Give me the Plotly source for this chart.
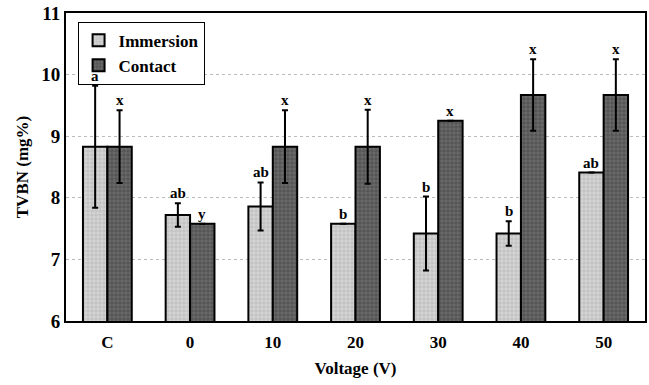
import plotly.graph_objects as go

categories = ["C", "0", "10", "20", "30", "40", "50"]
immersion = [8.83, 7.72, 7.86, 7.58, 7.42, 7.42, 8.41]
immersion_err = [0.99, 0.19, 0.39, 0.0, 0.60, 0.20, 0.0]
contact = [8.83, 7.58, 8.83, 8.83, 9.25, 9.67, 9.67]
contact_err = [0.59, 0.0, 0.59, 0.60, 0.0, 0.58, 0.58]
immersion_letters = ["a", "ab", "ab", "b", "b", "b", "ab"]
contact_letters = ["x", "y", "x", "x", "x", "x", "x"]
y_ticks = [6, 7, 8, 9, 10, 11]

FONT = "Liberation Serif"
fig = go.Figure()
fig.add_trace(go.Bar(
    name="Immersion", x=categories, y=immersion,
    error_y=dict(type="data", array=immersion_err, visible=True,
                 color="black", thickness=2, width=3),
    marker=dict(color="#d4d4d4", line=dict(color="black", width=2),
                pattern=dict(shape="+", fgcolor="#8a8a8a", size=4, solidity=0.25)),
))
fig.add_trace(go.Bar(
    name="Contact", x=categories, y=contact,
    error_y=dict(type="data", array=contact_err, visible=True,
                 color="black", thickness=2, width=3),
    marker=dict(color="#6a6a6a", line=dict(color="black", width=2),
                pattern=dict(shape="+", fgcolor="#1e1e1e", size=4, solidity=0.3)),
))

half = (1 - 0.41) / 4
ann = []
for i in range(len(categories)):
    ann.append(dict(x=i - half, y=immersion[i] + immersion_err[i], text=immersion_letters[i],
                    showarrow=False, yanchor="bottom", yshift=0,
                    font=dict(family=FONT, size=15, color="black", weight="bold")))
    ann.append(dict(x=i + half, y=contact[i] + contact_err[i], text=contact_letters[i],
                    showarrow=False, yanchor="bottom", yshift=0,
                    font=dict(family=FONT, size=15, color="black", weight="bold")))

fig.update_layout(
    width=649, height=385,
    margin=dict(l=66, r=4, t=13, b=64, autoexpand=False),
    barmode="group", bargap=0.41, bargroupgap=0,
    plot_bgcolor="white", paper_bgcolor="white",
    font=dict(family=FONT, color="black", weight="bold"),
    annotations=ann,
    legend=dict(x=0.02, y=0.972, xanchor="left", yanchor="top",
                bgcolor="white", bordercolor="black", borderwidth=1,
                font=dict(family=FONT, size=17, weight="bold"),
                tracegroupgap=0, itemwidth=30, itemclick=False),
    xaxis=dict(showline=True, linecolor="black", linewidth=2, mirror=True,
               ticks="", automargin=False, ticklabelstandoff=5,
               tickfont=dict(size=17, family=FONT, weight="bold"),
               title=dict(text="Voltage (V)", font=dict(size=17, family=FONT, weight="bold"),
                          standoff=11)),
    yaxis=dict(range=[6, 11], tickvals=y_ticks, showline=True, linecolor="black",
               linewidth=2, mirror=True, ticks="", automargin=False,
               ticklabeloverflow="allow",
               showgrid=True, gridcolor="#bbbbbb", griddash="dot", gridwidth=1,
               tickfont=dict(size=19, family=FONT, weight="bold"),
               title=dict(text="TVBN (mg%)", font=dict(size=17, family=FONT, weight="bold"),
                          standoff=8)),
)
fig.write_html("out.html", config={"displayModeBar": False},
               post_script="document.body.style.margin='0px';document.body.style.overflow='hidden';")
